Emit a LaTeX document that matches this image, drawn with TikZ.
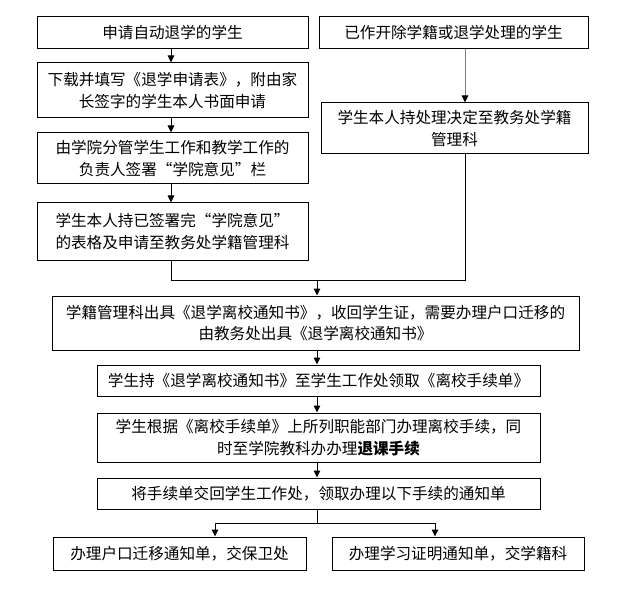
\documentclass[tikz,border=0pt]{standalone}
\usepackage{fontspec}
\setmainfont{Noto Sans CJK SC}
\usetikzlibrary{arrows.meta}
\begin{document}
\begin{tikzpicture}[x=1pt,y=-1pt,
  box/.style={draw=black,line width=1pt,align=center,inner sep=0pt,
    font=\fontsize{15.6}{21.7}\selectfont},
  arr/.style={line width=1pt,-{Triangle[length=7pt,width=6.5pt]}},
  ln/.style={line width=1pt}]
\useasboundingbox (0,0) rectangle (621,596);
\fill[white] (0,0) rectangle (621,596);
% left column
\node[box,minimum width=271pt,minimum height=32pt] (b1) at (172.5,33) {申请自动退学的学生};
\node[box,minimum width=271pt,minimum height=55pt] (b2) at (172.5,90.5) {下载并填写《退学申请表》，附由家\\长签字的学生本人书面申请};
\node[box,minimum width=271pt,minimum height=51pt] (b3) at (172.5,158.5) {由学院分管学生工作和教学工作的\\负责人签署“学院意见”栏};
\node[box,minimum width=271pt,minimum height=57pt] (b4) at (172.5,231.5) {学生本人持已签署完“学院意见”\\的表格及申请至教务处学籍管理科};
% right column
\node[box,minimum width=269pt,minimum height=32pt] (ra) at (453.5,33) {已作开除学籍或退学处理的学生};
\node[box,minimum width=267pt,minimum height=51pt] (rb) at (454.5,128.5) {学生本人持处理决定至教务处学籍\\管理科};
% main column
\node[box,minimum width=527pt,minimum height=54pt] (b5) at (315.5,323) {学籍管理科出具《退学离校通知书》，收回学生证，需要办理户口迁移的\\由教务处出具《退学离校通知书》};
\node[box,minimum width=443pt,minimum height=31pt] (b6) at (318.5,380.5) {学生持《退学离校通知书》至学生工作处领取《离校手续单》};
\node[box,minimum width=443pt,minimum height=49pt] (b7) at (318.5,437.5) {学生根据《离校手续单》上所列职能部门办理离校手续，同\\时至学院教科办办理\textbf{退课手续}};
\node[box,minimum width=443pt,minimum height=31pt] (b8) at (318.5,493.5) {将手续单交回学生工作处，领取办理以下手续的通知单};
\node[box,minimum width=253pt,minimum height=33pt] (b9) at (179.5,553.5) {办理户口迁移通知单，交保卫处};
\node[box,minimum width=252pt,minimum height=33pt] (b10) at (458,553.5) {办理学习证明通知单，交学籍科};
% coordinates
\coordinate (jl) at (171,280);
\coordinate (jr) at (465,280);
\coordinate (jm) at (317,280);
\coordinate (bm) at (317,523);
\coordinate (bl) at (215,523);
\coordinate (br) at (435,523);
% arrows left column
\draw[arr] (b1.south -| jl) -- (b2.north -| jl);
\draw[arr] (b2.south -| jl) -- (b3.north -| jl);
\draw[arr] (b3.south -| jl) -- (b4.north -| jl);
% right column
\draw[line width=1pt,gray,-{Triangle[length=7pt,width=6.5pt,color=black]}] (ra.south -| jr) -- (rb.north -| jr);
% join
\draw[ln] (b4.south -| jl) -- (jl) -- (jr) -- (rb.south -| jr);
\draw[arr] (jm) -- (b5.north -| jm);
\draw[arr] (b5.south -| jm) -- (b6.north -| jm);
\draw[arr] (b6.south -| jm) -- (b7.north -| jm);
\draw[arr] (b7.south -| jm) -- (b8.north -| jm);
% branch
\draw[ln] (b8.south -| bm) -- (bm);
\draw[arr] (bm) -- (bl) -- (b9.north -| bl);
\draw[arr] (bm) -- (br) -- (b10.north -| br);
\end{tikzpicture}
\end{document}
